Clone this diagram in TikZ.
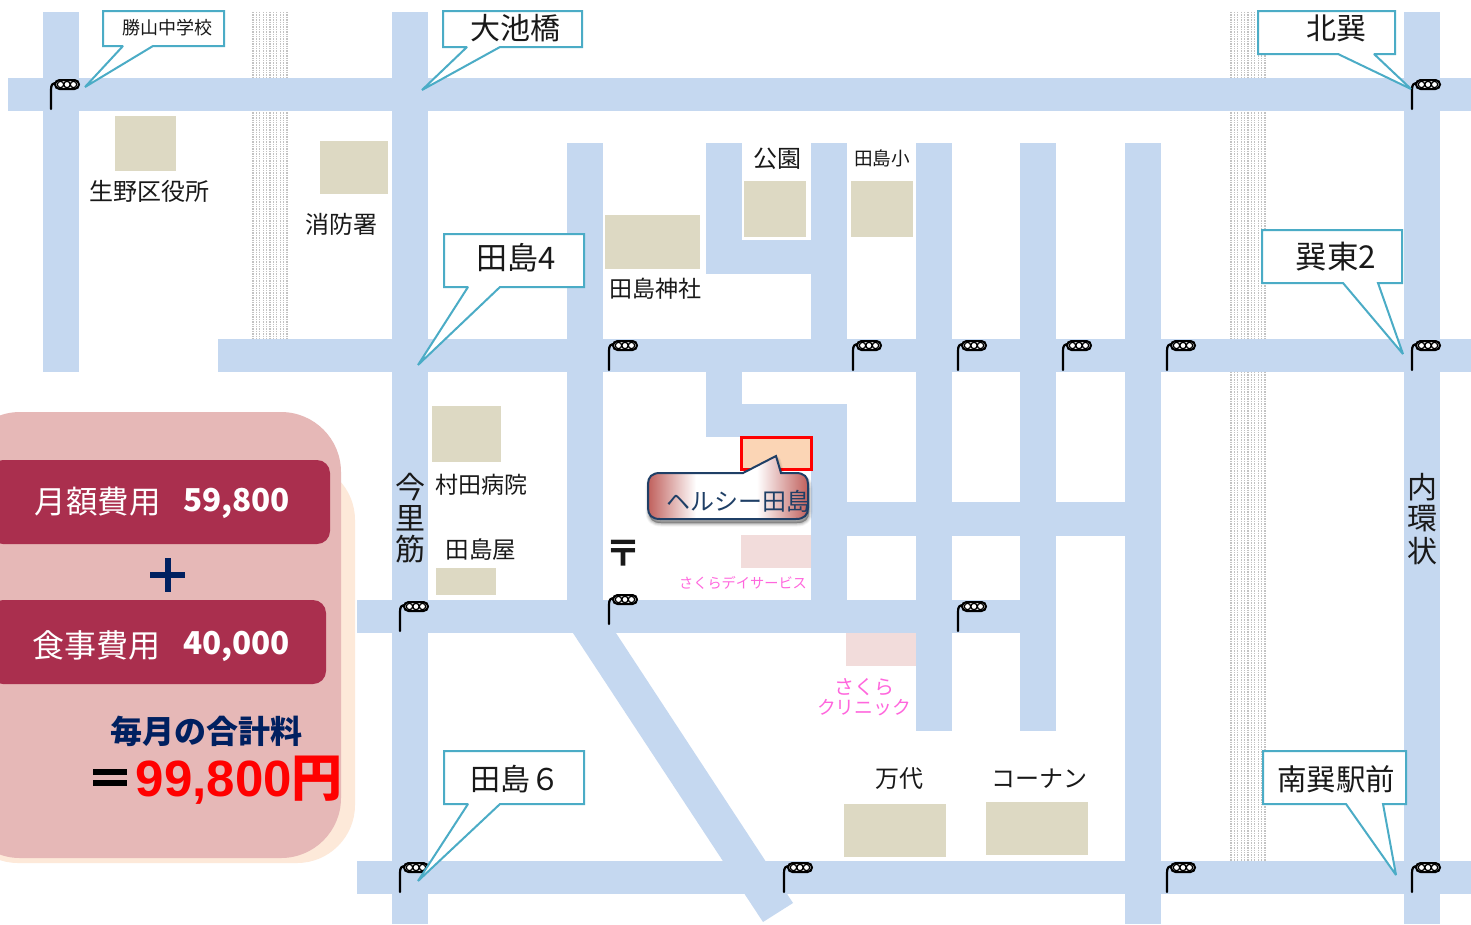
\documentclass[tikz,border=0pt]{standalone}
\usepackage{fontspec}
\setmainfont{Noto Sans CJK JP}
\newfontfamily\latinb{Liberation Sans}
\usetikzlibrary{shadows}
\definecolor{road}{HTML}{C5D8F0}
\definecolor{bldg}{HTML}{DDD9C3}
\definecolor{pinkb}{HTML}{F2DCDB}
\definecolor{tealc}{HTML}{4BACC6}
\definecolor{peach}{HTML}{FDE9D9}
\definecolor{panel}{HTML}{E6B8B7}
\definecolor{wine}{HTML}{AA2F4E}
\definecolor{navy}{HTML}{002060}
\definecolor{darkb}{HTML}{1F3F66}
\definecolor{redb}{HTML}{C0605C}
\definecolor{magt}{HTML}{FF66DD}
\definecolor{orangeb}{HTML}{FBD5B5}
\pgfdeclarehorizontalshading{markershade}{100bp}{color(0bp)=(redb); color(25bp)=(redb); color(40bp)=(white); color(59bp)=(white); color(75bp)=(redb); color(100bp)=(redb)}
\newcommand{\fs}[1]{\fontsize{#1}{#1}\selectfont}
\newcommand{\markerpath}{(660,473) -- (743,473) -- (776,456) -- (781,473) -- (796,473)
  .. controls (804,473) and (808,477) .. (808,484) -- (808,508)
  .. controls (808,515) and (804,519) .. (796,519) -- (660,519)
  .. controls (652,519) and (648,515) .. (648,508) -- (648,484)
  .. controls (648,477) and (652,473) .. (660,473) -- cycle}
\tikzset{
  x=1pt,y=-1pt,
  roadfill/.style={fill=road,draw=none},
  bldgfill/.style={fill=bldg,draw=none},
  pinkfill/.style={fill=pinkb,draw=none},
  railline/.style={draw=black!24,line width=1.3pt,dash pattern=on 1.4pt off 1pt},
  balloon/.style={draw=tealc,line width=2pt,fill=white,line join=miter,miter limit=2},
  lbl/.style={inner sep=0pt,text=black!90},
  signal/.pic={
    \draw[line width=2.2pt,black,line cap=round] (0,0) -- (0,-19) .. controls (0,-24) and (1,-26) .. (6,-26);
    \draw[line width=2pt,black,fill=white,rounded corners=4.5pt] (4,-29) rectangle (28,-20);
    \foreach \q in {9.5,16,22.5}{\draw[line width=1.3pt,black] (\q,-24.5) circle (3.2);}
  }
}
\begin{document}
\begin{tikzpicture}
\useasboundingbox (0,0) rectangle (1471,924);
\fill[white] (0,0) rectangle (1471,924);
% rail strips
\foreach \xa/\ya/\yb in {252/12/78,252/110/339,1230/12/78,1230/110/339,1230/372/861}{
  \foreach \k in {0,...,10}{
    \draw[railline] ({\xa+\k*3.4+1},\ya) -- ({\xa+\k*3.4+1},\yb);
  }
}
% roads
\foreach \xa/\ya/\xb/\yb in {
  8/78/1471/111, 218/339/1471/372, 357/600/1056/633, 357/861/1471/894,
  43/12/79/372, 392/12/428/924, 567/143/603/633, 706/143/742/274, 707/240/847/274,
  811/143/847/372, 811/404/847/600, 706/372/742/437, 707/404/847/437,
  916/143/952/731, 1020/143/1056/731, 1125/143/1161/924, 1404/12/1440/924,
  847/502/1125/536}{
  \path[roadfill] (\xa,\ya) rectangle (\xb,\yb);
}
\path[roadfill] (571,630) -- (614,630) -- (793,903) -- (763,922) -- cycle;
% buildings
\foreach \xa/\ya/\xb/\yb in {115/116/176/171,320/141/388/194,605/215/700/269,744/181/806/237,851/181/913/237,432/406/501/462,436/568/496/595,844/804/946/857,986/802/1088/855}{
  \path[bldgfill] (\xa,\ya) rectangle (\xb,\yb);
}
\path[pinkfill] (741,535) rectangle (811,568);
\path[pinkfill] (846,633) rectangle (916,666);
% target
\draw[red,line width=3pt,fill=orangeb] (741,437) rectangle (811,469);
% signals
\foreach \sx/\sy in {51/109,1412/109,609/370,853/370,958/370,1063/370,1167/370,1412/370,400/631,609/624,958/631,400/892,784/892,1167/892,1412/892}{
  \pic at (\sx,\sy) {signal};
}
% balloons
\path[balloon] (103,11) -- (224,11) -- (224,46) -- (153,46) -- (85,87) -- (123,46) -- (103,46) -- cycle;
\path[balloon] (443,11) -- (582,11) -- (582,47) -- (500,47) -- (422,90) -- (467,47) -- (443,47) -- cycle;
\path[balloon] (1258,11) -- (1395,11) -- (1395,54) -- (1374,54) -- (1411,89) -- (1338,54) -- (1258,54) -- cycle;
\path[balloon] (444,234) -- (584,234) -- (584,287) -- (500,287) -- (418,365) -- (468,287) -- (444,287) -- cycle;
\path[balloon] (1262,230) -- (1402,230) -- (1402,283) -- (1378,283) -- (1403,354) -- (1343,283) -- (1262,283) -- cycle;
\path[balloon] (444,751) -- (584,751) -- (584,804) -- (500,804) -- (418,881) -- (468,804) -- (444,804) -- cycle;
\path[balloon] (1263,751) -- (1406,751) -- (1406,804) -- (1383,804) -- (1396,875) -- (1346,804) -- (1263,804) -- cycle;
\node[lbl,font=\fs{18}] (katsuyama) at (167,28) {勝山中学校};
\node[lbl,font=\fs{30}] (oike) at (515.5,28) {大池橋};
\node[lbl,font=\fs{30}] (kitatatsumi) at (1336,28) {北巽};
\node[lbl,font=\fs{31}] (tajima4) at (516,258) {田島4};
\node[lbl,font=\fs{31.5}] (tatsumi2) at (1336,257) {巽東2};
\node[lbl,font=\fs{30}] (tajima6) at (515,779) {田島６};
\node[lbl,font=\fs{29.5}] (minami) at (1336,779) {南巽駅前};
% labels
\node[lbl,font=\fs{24}] (ikuno) at (149,191) {生野区役所};
\node[lbl,font=\fs{24}] (fire) at (341,224) {消防署};
\node[lbl,font=\fs{24}] (park) at (777,159) {公園};
\node[lbl,font=\fs{18.6}] (sho) at (882,158) {田島小};
\node[lbl,font=\fs{23}] (shrine) at (655.5,289) {田島神社};
\node[lbl,font=\fs{23}] (murata) at (481,485) {村田病院};
\node[lbl,font=\fs{23.5}] (tajimaya) at (481,550) {田島屋};
\node[lbl,align=center] (imazato) at (410,518) {\fs{30}今\\[3.5pt]\fs{30}里\\[3.5pt]\fs{30}筋};
\node[lbl,align=center] (naikan) at (1422,519) {\fs{30}内\\[3.5pt]\fs{30}環\\[3.5pt]\fs{30}状};
\node[lbl,font=\fs{36}\bfseries] (post) at (623,553) {〒};
\node[lbl,font=\fs{14.2},text=magt] (sakuraday) at (743,583) {さくらデイサービス};
\node[lbl,text=magt,align=center] (clinic) at (864,697) {\fs{20}さくら\\[3pt]\fs{18.8}クリニック};
\node[lbl,font=\fs{24}] (mandai) at (899,779) {万代};
\node[lbl,font=\fs{24}] (konan) at (1039,779) {コーナン};
% marker balloon
\foreach \w/\o in {7/.05,5/.07,3/.09,1/.12}{
  \fill[black,opacity=\o,draw=black,line width=\w pt,line join=round,shift={(1,4)}] \markerpath;
}
\path[shading=markershade,draw=darkb,line width=2pt] \markerpath;
\node[lbl,font=\fs{24},text=darkb] (healthy) at (738,501) {ヘルシー田島};
% cost panel
\fill[peach,rounded corners=58pt] (-40,462) rectangle (355,863);
\fill[panel,rounded corners=60pt] (-40,412) rectangle (341,858);
\fill[wine,rounded corners=13pt] (-10,460) rectangle (330,544);
\fill[wine,rounded corners=13pt] (-10,600) rectangle (326,684);
\node[inner sep=0pt,text=white,font=\fs{31.5}] (gaku) at (97.5,502) {月額費用};
\node[inner sep=0pt,text=white,font=\fs{31.5}\bfseries] (v1) at (236.5,503) {59,800};
\node[inner sep=0pt,text=white,font=\fs{32}] (shoku) at (96.5,645) {食事費用};
\node[inner sep=0pt,text=white,font=\fs{31.5}\bfseries] (v2) at (236.5,646) {40,000};
\draw[navy,line width=6pt] (150,575) -- (185,575);
\draw[navy,line width=6pt] (167.5,558) -- (167.5,592);
\node[inner sep=0pt,text=navy,font=\fs{32}\bfseries] (total) at (206,731) {毎月の合計料};
\draw[black,line width=6pt] (93,772) -- (127,772);
\draw[black,line width=6pt] (93,783) -- (127,783);
\node[inner sep=0pt,text=red,font=\fs{51}\bfseries,anchor=east] (sum) at (343,780) {{\latinb 99,800}円};
\end{tikzpicture}
\end{document}
